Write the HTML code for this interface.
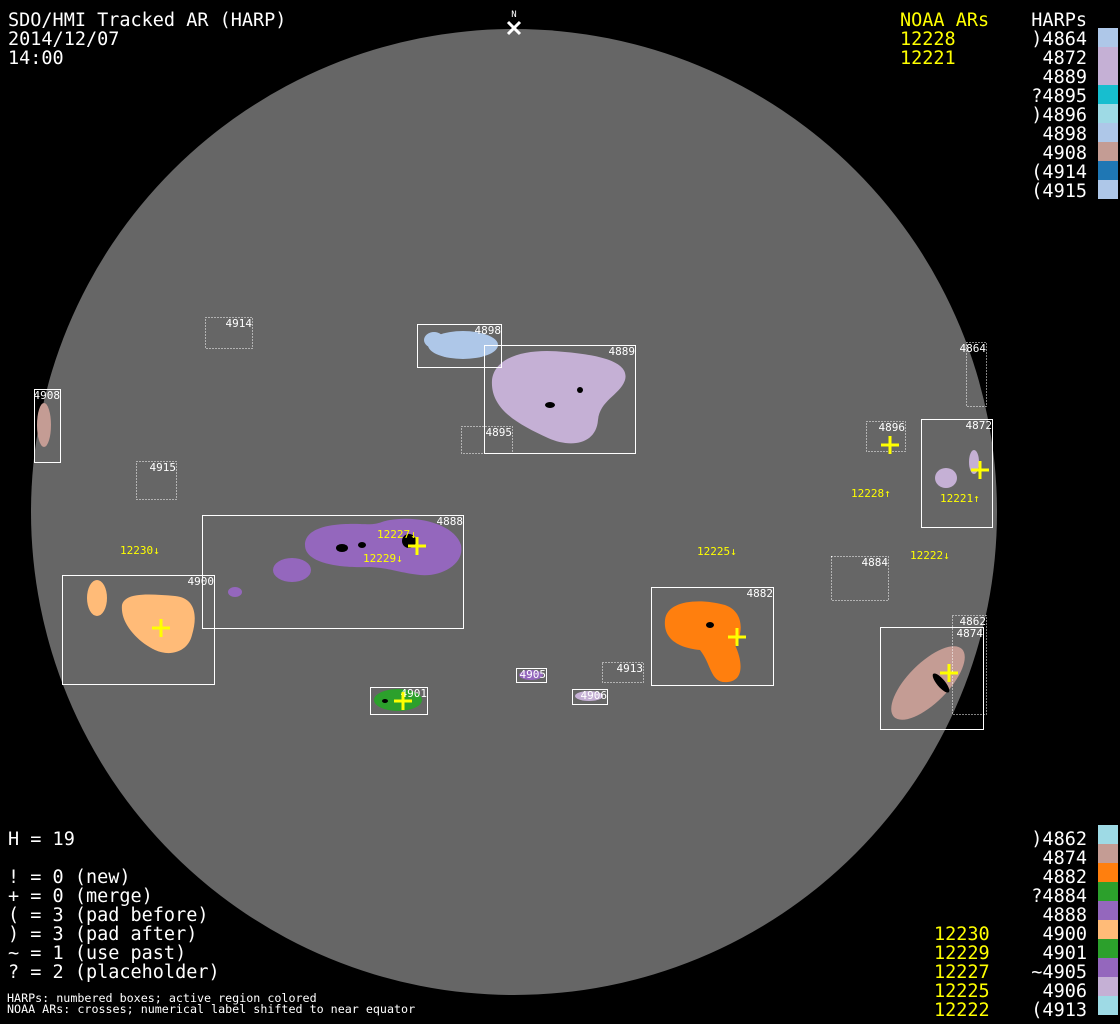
<!DOCTYPE html>
<html><head><meta charset="utf-8"><style>
html,body{margin:0;padding:0;background:#000;width:1120px;height:1024px;overflow:hidden}
svg{display:block}
text{font-family:"DejaVu Sans Mono","Liberation Mono",monospace}
</style></head><body>
<svg width="1120" height="1024" viewBox="0 0 1120 1024" xmlns="http://www.w3.org/2000/svg">
<rect width="1120" height="1024" fill="#000"/>
<circle cx="514" cy="512" r="483" fill="#666"/>
<g>
<ellipse cx="44" cy="425" rx="7" ry="22" fill="#c49c94"/>
<ellipse cx="463" cy="345" rx="35" ry="14" fill="#aec7e8"/>
<ellipse cx="434" cy="340" rx="10" ry="8" fill="#aec7e8"/>
<path d="M492,380 C495,355 530,348 565,352 C600,355 630,362 625,380 C620,395 600,400 598,420 C596,445 570,448 548,438 C520,425 490,410 492,380Z" fill="#c5b0d5"/>
<ellipse cx="946" cy="478" rx="11" ry="10" fill="#c5b0d5"/>
<ellipse cx="974" cy="462" rx="5" ry="12" fill="#c5b0d5"/>
<path d="M305,545 C305,528 330,523 360,524 C380,525 378,522 390,520 C420,515 455,525 461,545 C465,565 440,577 420,575 C400,573 390,568 370,567 C345,568 305,565 305,545Z" fill="#9467bd"/>
<ellipse cx="292" cy="570" rx="19" ry="12" fill="#9467bd"/>
<ellipse cx="235" cy="592" rx="7" ry="5" fill="#9467bd"/>
<ellipse cx="97" cy="598" rx="10" ry="18" fill="#ffbb78"/>
<path d="M122,605 C125,592 150,594 175,596 C195,598 198,615 192,635 C188,652 170,657 155,650 C140,643 120,625 122,605Z" fill="#ffbb78"/>
<path d="M665,620 C667,600 700,598 725,605 C745,612 743,635 735,645 C742,660 745,680 728,682 C710,684 712,665 700,650 C680,648 663,640 665,620Z" fill="#ff7f0e"/>
<ellipse cx="928" cy="683" rx="48" ry="20" transform="rotate(-45 928 683)" fill="#c49c94"/>
<ellipse cx="398" cy="700" rx="24" ry="11" fill="#2ca02c"/>
<ellipse cx="531" cy="675" rx="12" ry="5" fill="#9467bd"/>
<ellipse cx="589" cy="696" rx="14" ry="5" fill="#c5b0d5"/>
</g>
<g fill="#000">
<ellipse cx="409" cy="541" rx="7" ry="7"/><ellipse cx="342" cy="548" rx="6" ry="4"/><ellipse cx="362" cy="545" rx="4" ry="3"/>
<ellipse cx="941" cy="683" rx="4" ry="12" transform="rotate(-40 941 683)"/>
<ellipse cx="550" cy="405" rx="5" ry="3"/><ellipse cx="580" cy="390" rx="3" ry="3"/>
<ellipse cx="710" cy="625" rx="4" ry="3"/><ellipse cx="385" cy="701" rx="3" ry="2"/>
</g>
<g fill="none" stroke="#fff" stroke-width="1">
<rect x="34.5" y="389.5" width="26" height="73"/>
<rect x="417.5" y="324.5" width="84" height="43"/>
<rect x="484.5" y="345.5" width="151" height="108"/>
<rect x="921.5" y="419.5" width="71" height="108"/>
<rect x="202.5" y="515.5" width="261" height="113"/>
<rect x="62.5" y="575.5" width="152" height="109"/>
<rect x="651.5" y="587.5" width="122" height="98"/>
<rect x="880.5" y="627.5" width="103" height="102"/>
<rect x="516.5" y="668.5" width="30" height="14"/>
<rect x="572.5" y="689.5" width="35" height="15"/>
<rect x="370.5" y="687.5" width="57" height="27"/>
</g>
<g fill="none" stroke="#fff" stroke-width="1" stroke-dasharray="1,2">
<rect x="205.5" y="317.5" width="47" height="31"/>
<rect x="136.5" y="461.5" width="40" height="38"/>
<rect x="461.5" y="426.5" width="51" height="27"/>
<rect x="966.5" y="342.5" width="20" height="64"/>
<rect x="866.5" y="421.5" width="39" height="30"/>
<rect x="831.5" y="556.5" width="57" height="44"/>
<rect x="952.5" y="615.5" width="34" height="99"/>
<rect x="602.5" y="662.5" width="41" height="20"/>
</g>
<g fill="#fff" font-size="11" text-anchor="end">
<text x="252" y="327">4914</text><text x="60" y="399">4908</text><text x="176" y="471">4915</text>
<text x="501" y="334">4898</text><text x="635" y="355">4889</text><text x="512" y="436">4895</text>
<text x="986" y="352">4864</text><text x="905" y="431">4896</text><text x="992" y="429">4872</text>
<text x="463" y="525">4888</text><text x="214" y="585">4900</text><text x="888" y="566">4884</text>
<text x="773" y="597">4882</text><text x="986" y="625">4862</text><text x="983" y="637">4874</text>
<text x="546" y="678">4905</text><text x="643" y="672">4913</text><text x="607" y="699">4906</text>
<text x="427" y="697">4901</text>
</g>
<g stroke="#ff0" stroke-width="3">
<path d="M408,546h18M417,537v18"/><path d="M152,628h18M161,619v18"/><path d="M394,701h18M403,692v18"/>
<path d="M728,637h18M737,628v18"/><path d="M881,445h18M890,436v18"/><path d="M971,470h18M980,461v18"/>
<path d="M940,673h18M949,664v18"/>
</g>
<g fill="#ff0" font-size="11">
<text x="120" y="554">12230↓</text><text x="363" y="562">12229↓</text><text x="377" y="538">12227↓</text>
<text x="697" y="555">12225↓</text><text x="851" y="497">12228↑</text><text x="940" y="502">12221↑</text>
<text x="910" y="559">12222↓</text>
</g>
<path d="M508,22l12,12M520,22l-12,12" stroke="#fff" stroke-width="3"/>
<text x="514" y="17" fill="#fff" font-size="9" text-anchor="middle">N</text>
<g fill="#fff" font-size="18.5">
<text x="8" y="26">SDO/HMI Tracked AR (HARP)</text>
<text x="8" y="45">2014/12/07</text>
<text x="8" y="64">14:00</text>
<text x="8" y="845">H = 19</text>
<text x="8" y="883">! = 0 (new)</text>
<text x="8" y="902">+ = 0 (merge)</text>
<text x="8" y="921">( = 3 (pad before)</text>
<text x="8" y="940">) = 3 (pad after)</text>
<text x="8" y="959">~ = 1 (use past)</text>
<text x="8" y="978">? = 2 (placeholder)</text>
</g>
<g fill="#fff" font-size="11.7">
<text x="7" y="1002">HARPs: numbered boxes; active region colored</text>
<text x="7" y="1013">NOAA ARs: crosses; numerical label shifted to near equator</text>
</g>
<g fill="#ff0" font-size="18.5">
<text x="900" y="26">NOAA ARs</text><text x="900" y="45">12228</text><text x="900" y="64">12221</text>
<text x="934" y="940">12230</text><text x="934" y="959">12229</text><text x="934" y="978">12227</text>
<text x="934" y="997">12225</text><text x="934" y="1016">12222</text>
</g>
<g fill="#fff" font-size="18.5" text-anchor="end">
<text x="1087" y="26">HARPs</text>
<text x="1087" y="45">)4864</text><text x="1087" y="64">4872</text><text x="1087" y="83">4889</text>
<text x="1087" y="102">?4895</text><text x="1087" y="121">)4896</text><text x="1087" y="140">4898</text>
<text x="1087" y="159">4908</text><text x="1087" y="178">(4914</text><text x="1087" y="197">(4915</text>
<text x="1087" y="845">)4862</text><text x="1087" y="864">4874</text><text x="1087" y="883">4882</text>
<text x="1087" y="902">?4884</text><text x="1087" y="921">4888</text><text x="1087" y="940">4900</text>
<text x="1087" y="959">4901</text><text x="1087" y="978">~4905</text><text x="1087" y="997">4906</text>
<text x="1087" y="1016">(4913</text>
</g>
<g>
<rect x="1098" y="28" width="20" height="19" fill="#aec7e8"/>
<rect x="1098" y="47" width="20" height="19" fill="#c5b0d5"/>
<rect x="1098" y="66" width="20" height="19" fill="#c5b0d5"/>
<rect x="1098" y="85" width="20" height="19" fill="#17becf"/>
<rect x="1098" y="104" width="20" height="19" fill="#9edae5"/>
<rect x="1098" y="123" width="20" height="19" fill="#aec7e8"/>
<rect x="1098" y="142" width="20" height="19" fill="#c49c94"/>
<rect x="1098" y="161" width="20" height="19" fill="#1f77b4"/>
<rect x="1098" y="180" width="20" height="19" fill="#aec7e8"/>
<rect x="1098" y="825" width="20" height="19" fill="#9edae5"/>
<rect x="1098" y="844" width="20" height="19" fill="#c49c94"/>
<rect x="1098" y="863" width="20" height="19" fill="#ff7f0e"/>
<rect x="1098" y="882" width="20" height="19" fill="#2ca02c"/>
<rect x="1098" y="901" width="20" height="19" fill="#9467bd"/>
<rect x="1098" y="920" width="20" height="19" fill="#ffbb78"/>
<rect x="1098" y="939" width="20" height="19" fill="#2ca02c"/>
<rect x="1098" y="958" width="20" height="19" fill="#9467bd"/>
<rect x="1098" y="977" width="20" height="19" fill="#c5b0d5"/>
<rect x="1098" y="996" width="20" height="19" fill="#9edae5"/>
</g>
</svg>
</body></html>
